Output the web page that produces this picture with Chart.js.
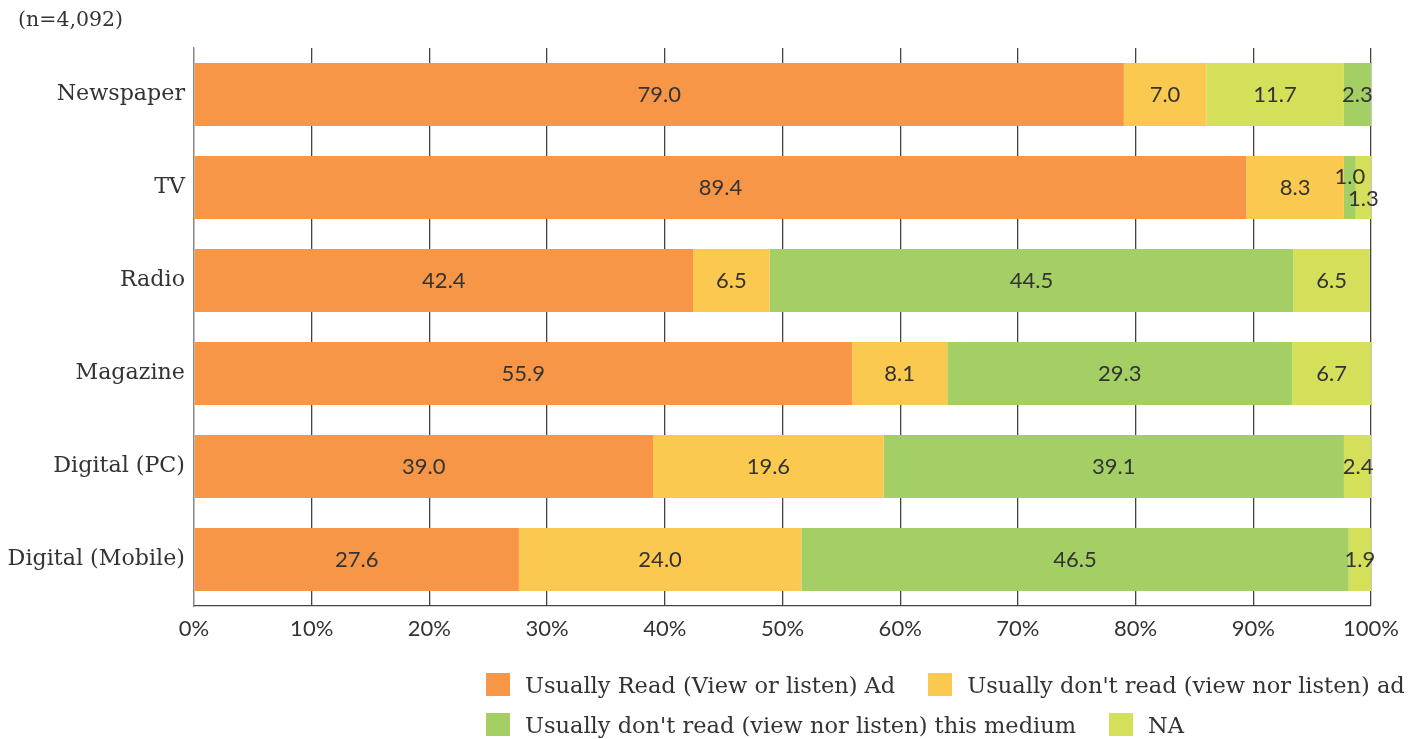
<!DOCTYPE html>
<html>
<head>
<meta charset="utf-8">
<script src="https://cdn.jsdelivr.net/npm/chart.js@4/dist/chart.umd.min.js"></script>
<style>
  html, body { margin: 0; padding: 0; background: #fff; }
  #wrap { position: relative; width: 1415px; height: 739px; }
  #chart { position: absolute; left: 0; top: 0; }
  #note {
    position: absolute; left: 18px; top: 7px;
    font: 20.5px "DejaVu Serif", serif; color: #333;
  }
  #legend {
    position: absolute; left: 486px; top: 673px; width: 929px;
    font: 22.5px "DejaVu Serif", serif; color: #333;
  }
  .row { display: flex; height: 23px; margin-bottom: 17px; white-space: nowrap; }
  .item { display: flex; align-items: center; margin-right: 33px; height: 23px; }
  .box { width: 24px; height: 23px; margin-right: 15px; flex: none; }
</style>
</head>
<body>
<div id="wrap">
  <canvas id="chart" width="1415" height="739"></canvas>
  <div id="note">(n=4,092)</div>
  <div id="legend"></div>
</div>
<script>
// Survey: how people treat advertising in each medium (%, n=4,092)
const categories = ['Newspaper', 'TV', 'Radio', 'Magazine', 'Digital (PC)', 'Digital (Mobile)'];
const readAd         = [79.0, 89.4, 42.4, 55.9, 39.0, 27.6];
const dontReadAd     = [7.0, 8.3, 6.5, 8.1, 19.6, 24.0];
const dontReadMedium = [2.3, 1.0, 44.5, 29.3, 39.1, 46.5];
const notAnswered    = [11.7, 1.3, 6.5, 6.7, 2.4, 1.9];
const tickLabels = ['0%', '10%', '20%', '30%', '40%', '50%', '60%', '70%', '80%', '90%', '100%'];

// rows where the NA segment sits before the "this medium" segment
const naBeforeMedium = ['Newspaper'];

const series = [
  { label: 'Usually Read (View or listen) Ad', color: '#F79646' },
  { label: "Usually don't read (view nor listen) ad", color: '#FCC950' },
  { label: "Usually don't read (view nor listen) this medium", color: '#A3CF64' },
  { label: 'NA', color: '#D5E05A' }
];

const naLead  = notAnswered.map((v, i) => naBeforeMedium.includes(categories[i]) ? v : null);
const naTrail = notAnswered.map((v, i) => naBeforeMedium.includes(categories[i]) ? null : v);

const datasets = [
  { label: series[0].label, data: readAd, backgroundColor: series[0].color },
  { label: series[1].label, data: dontReadAd, backgroundColor: series[1].color },
  { label: series[3].label, data: naLead, backgroundColor: series[3].color },
  { label: series[2].label, data: dontReadMedium, backgroundColor: series[2].color },
  { label: series[3].label, data: naTrail, backgroundColor: series[3].color }
];

// nudges for labels that would collide on thin segments
const labelNudge = { 'TV|3': -11, 'TV|4': 11 };

const valueLabels = {
  id: 'valueLabels',
  afterDatasetsDraw(chart) {
    const ctx = chart.ctx;
    ctx.save();
    ctx.font = '22px Lato';
    ctx.fillStyle = '#333';
    ctx.textAlign = 'center';
    ctx.textBaseline = 'middle';
    chart.data.datasets.forEach((ds, di) => {
      const meta = chart.getDatasetMeta(di);
      meta.data.forEach((el, i) => {
        const v = ds.data[i];
        if (v === null || v === undefined) return;
        const p = el.getProps(['x', 'y', 'base'], true);
        const cx = (p.x + p.base) / 2;
        const dy = labelNudge[categories[i] + '|' + di] || 0;
        ctx.fillText(v.toFixed(1), cx, p.y + dy);
      });
    });
    ctx.restore();
  }
};

new Chart(document.getElementById('chart'), {
  type: 'bar',
  data: { labels: categories, datasets },
  options: {
    indexAxis: 'y',
    responsive: false,
    animation: false,
    layout: { padding: { top: 48, right: 44, left: 0, bottom: 0 } },
    datasets: { bar: { categoryPercentage: 1, barPercentage: 0.68 } },
    plugins: { legend: { display: false }, tooltip: { enabled: false } },
    scales: {
      x: {
        stacked: true, min: 0, max: 100,
        afterFit(s) { s.height = 133; },
        afterBuildTicks(s) { s.ticks = tickLabels.map((t, i) => ({ value: i * 10 })); },
        ticks: {
          padding: 10, color: '#333', font: { family: 'Lato', size: 22 },
          callback: (v, i) => tickLabels[i]
        },
        grid: {
          drawTicks: false,
          color: (c) => c.index === 0 ? '#888' : '#444',
          lineWidth: 1.3
        },
        border: { display: true, color: '#444', width: 1.3 }
      },
      y: {
        stacked: true,
        afterFit(s) { s.width = 194; },
        ticks: { padding: 9, color: '#333', font: { family: 'DejaVu Serif', size: 22.2 } },
        grid: { display: false, drawTicks: false },
        border: { display: true, color: '#888', width: 1.3 }
      }
    }
  },
  plugins: [valueLabels]
});

// legend: two rows, first two series on the top row
const legend = document.getElementById('legend');
[[0, 1], [2, 3]].forEach((rowIdx) => {
  const row = document.createElement('div');
  row.className = 'row';
  rowIdx.forEach((i) => {
    const s = series[i];
    const item = document.createElement('div');
    item.className = 'item';
    const box = document.createElement('span');
    box.className = 'box';
    box.style.background = s.color;
    const txt = document.createElement('span');
    txt.textContent = s.label;
    item.appendChild(box);
    item.appendChild(txt);
    row.appendChild(item);
  });
  legend.appendChild(row);
});
</script>
</body>
</html>
